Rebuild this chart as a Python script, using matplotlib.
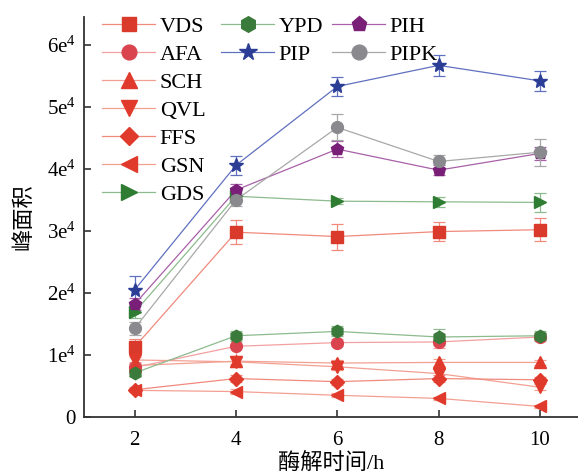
import numpy as np
import matplotlib
matplotlib.use("Agg")
import matplotlib.pyplot as plt
from matplotlib.lines import Line2D

plt.rcParams['font.family'] = ['Liberation Serif', 'Noto Sans CJK SC']
plt.rcParams['mathtext.fontset'] = 'stix'

# hydrolysis time (h)
hours = [2, 4, 6, 8, 10]

# peak areas, units of 1e4
vds = [1.13, 2.98, 2.91, 2.99, 3.02]
afa = [0.80, 1.14, 1.20, 1.21, 1.29]
sch = [0.83, 0.90, 0.87, 0.88, 0.88]
qvl = [0.92, 0.89, 0.81, 0.70, 0.48]
ffs = [0.44, 0.62, 0.57, 0.62, 0.60]
gsn = [0.43, 0.41, 0.35, 0.30, 0.17]
gds = [1.69, 3.56, 3.48, 3.47, 3.46]
ypd = [0.71, 1.31, 1.38, 1.29, 1.31]
pip = [2.05, 4.06, 5.33, 5.67, 5.42]
pih = [1.82, 3.66, 4.32, 3.98, 4.25]
pipk = [1.43, 3.50, 4.67, 4.12, 4.27]

# error bars, units of 1e4
vds_err = [0.12, 0.19, 0.21, 0.15, 0.19]
afa_err = [0.05, 0.15, 0.05, 0.10, 0.05]
sch_err = [0.05, 0.05, 0.05, 0.05, 0.04]
qvl_err = [0.05, 0.08, 0.06, 0.08, 0.05]
ffs_err = [0.04, 0.05, 0.05, 0.05, 0.05]
gsn_err = [0.03, 0.04, 0.03, 0.03, 0.03]
gds_err = [0.10, 0.05, 0.05, 0.08, 0.16]
ypd_err = [0.05, 0.08, 0.08, 0.13, 0.08]
pip_err = [0.23, 0.15, 0.15, 0.17, 0.16]
pih_err = [0.10, 0.10, 0.13, 0.08, 0.10]
pipk_err = [0.10, 0.10, 0.21, 0.10, 0.22]

ytick_vals = [0, 1, 2, 3, 4, 5, 6]
ytick_labels = ['0'] + [r'$\mathregular{%de^{4}}$' % v for v in ytick_vals[1:]]

series = [
    # label, values, errors, marker, marker color, line color, marker size
    ('VDS', vds, vds_err, 's', '#d93a2c', '#f08a7c', 8),
    ('AFA', afa, afa_err, 'o', '#d9444f', '#f3a0a0', 8.5),
    ('SCH', sch, sch_err, '^', '#e03a2c', '#f3a093', 9),
    ('QVL', qvl, qvl_err, 'v', '#e03a2c', '#f3a093', 9),
    ('FFS', ffs, ffs_err, 'D', '#e03a2c', '#f08a7c', 7),
    ('GSN', gsn, gsn_err, '<', '#e03a2c', '#f3a093', 9),
    ('GDS', gds, gds_err, '>', '#2e7d32', '#8dbb8d', 9),
    ('YPD', ypd, ypd_err, 'h', '#3a7a3a', '#8dbb8d', 9),
    ('PIP', pip, pip_err, '*', '#2b3d95', '#6070c0', 10.5),
    ('PIH', pih, pih_err, 'p', '#7a1f78', '#a860a8', 9),
    ('PIPK', pipk, pipk_err, 'o', '#8a8a8e', '#a8a8a8', 8.5),
]

fig = plt.figure(figsize=(5.78, 4.76), dpi=100)
ax = fig.add_axes([84 / 578, 59 / 476, 494 / 578, 400 / 476])

handles = {}
for label, vals, errs, mk, mc, lc, ms in series:
    y = np.array(vals) * 1e4
    e = np.array(errs) * 1e4
    ax.errorbar(hours, y, yerr=e, fmt='none', ecolor=lc, elinewidth=0.9,
                capsize=4, capthick=0.9, zorder=2)
    ax.plot(hours, y, color=lc, lw=0.9, zorder=3)
    ax.plot(hours, y, linestyle='none', marker=mk, markersize=ms,
            markerfacecolor=mc, markeredgecolor=mc, zorder=4)
    handles[label] = Line2D([], [], color=lc, lw=0.9, marker=mk,
                            markersize=ms * 1.25, markerfacecolor=mc,
                            markeredgecolor=mc)

ax.set_xlim(1.0, 10.75)
ax.set_ylim(0, 6.45e4)
ax.set_xticks(hours)
ax.set_yticks([v * 1e4 for v in ytick_vals])
ax.set_yticklabels(ytick_labels)
ax.tick_params(direction='in', length=5, width=1.2, color='#333333',
               labelsize=15, pad=6)
ax.tick_params(axis='x', pad=10)
for side in ['top', 'right']:
    ax.spines[side].set_visible(False)
for side in ['left', 'bottom']:
    ax.spines[side].set_linewidth(1.3)
    ax.spines[side].set_color('#333333')

ax.set_xlabel('酶解时间/h', fontsize=16, labelpad=2)
ax.set_ylabel('峰面积', fontsize=16, labelpad=9)

# legend laid out as three separate columns
cols = [
    (['VDS', 'AFA', 'SCH', 'QVL', 'FFS', 'GSN', 'GDS'], 102),
    (['YPD', 'PIP'], 221),
    (['PIH', 'PIPK'], 332),
]
for names, xpix in cols:
    leg = fig.legend([handles[n] for n in names], names, frameon=False,
                     loc='upper left',
                     bbox_to_anchor=(xpix / 578, 1 - 16 / 476),
                     fontsize=16, handlelength=2.4, handletextpad=0.2,
                     labelspacing=0.34, borderpad=0, borderaxespad=0)

fig.savefig('out.png', dpi=100)
